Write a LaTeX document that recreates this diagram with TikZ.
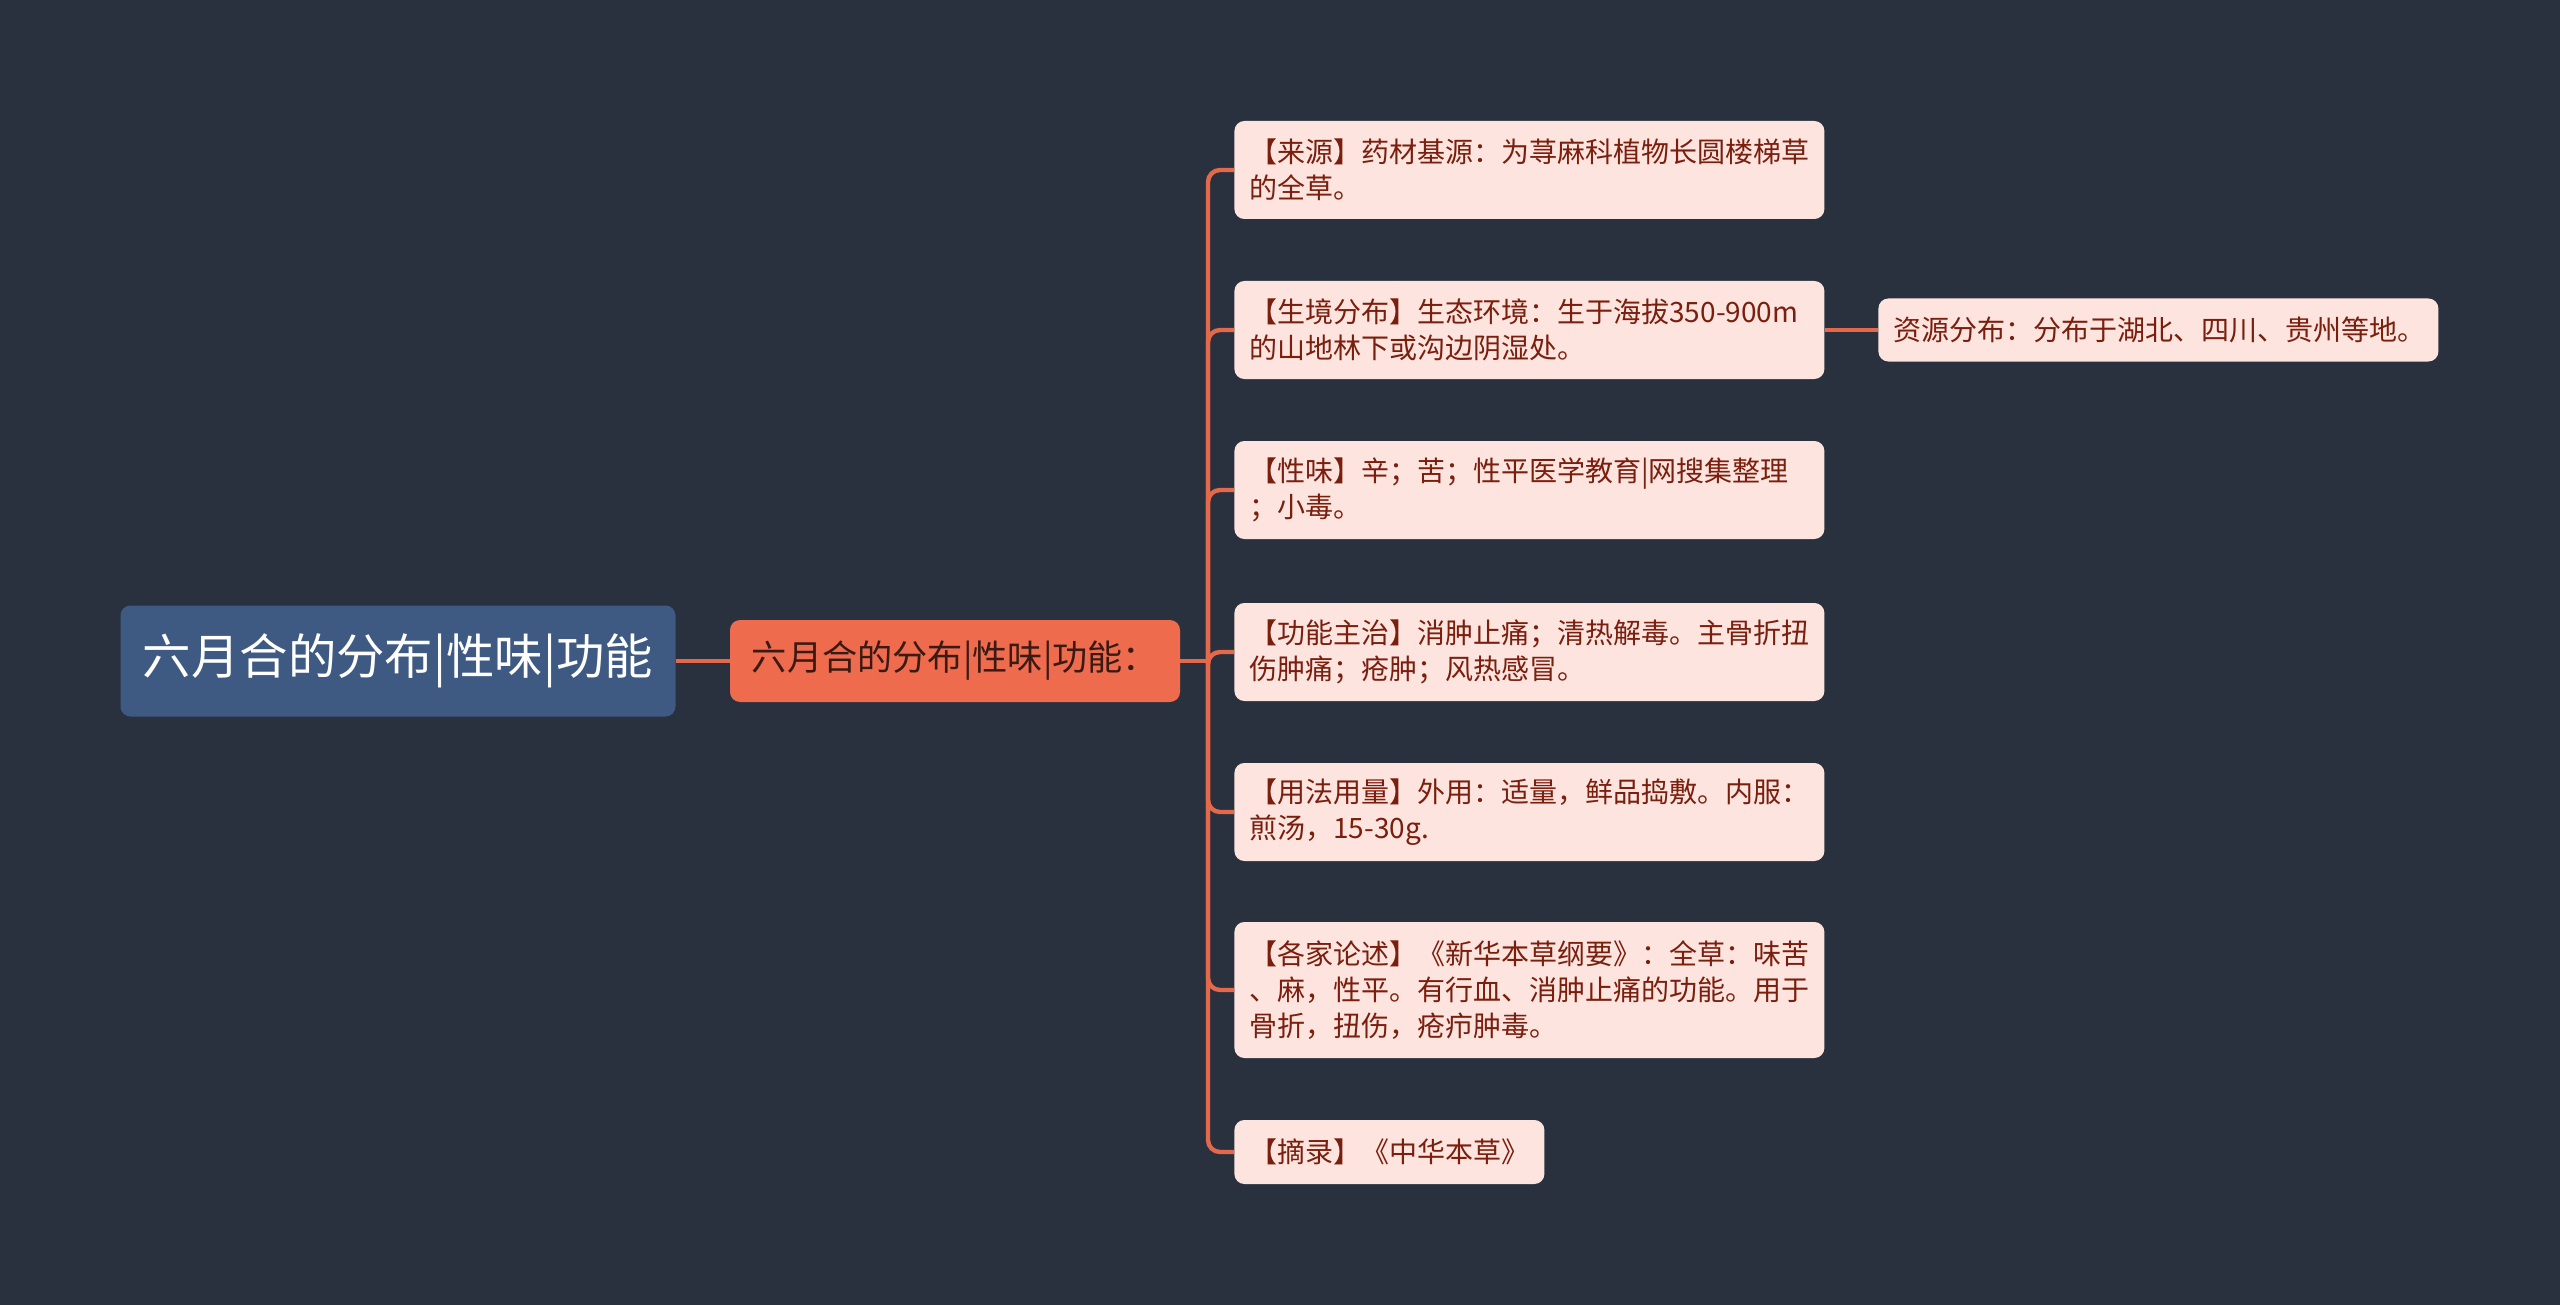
\documentclass[tikz,border=0pt]{standalone}
\usepackage{fontspec}
\newfontfamily\cjk{Noto Sans CJK SC}
\definecolor{bgc}{HTML}{29313F}
\definecolor{rootc}{HTML}{3E5A82}
\definecolor{mainc}{HTML}{EE6B4D}
\definecolor{leafc}{HTML}{FDE4DE}
\definecolor{leaftext}{HTML}{7A1E0E}
\definecolor{linec}{HTML}{E4684A}
\definecolor{maintext}{HTML}{3B1A14}
\tikzset{
  rootbox/.style={fill=rootc, rounded corners=5pt, text=white, font=\cjk\fontsize{24.2pt}{28pt}\selectfont, minimum width=277.5pt, minimum height=55.5pt, inner sep=0pt},
  mainbox/.style={fill=mainc, rounded corners=5pt, text=maintext, font=\cjk\fontsize{17.6pt}{21pt}\selectfont, minimum width=225pt, minimum height=41pt, inner sep=0pt},
  leafbox/.style={fill=leafc, rounded corners=5pt, text=leaftext, font=\cjk\fontsize{14pt}{18pt}\selectfont, align=left, inner xsep=7.5pt, inner ysep=0pt, anchor=west},
  wideleaf/.style={leafbox, text width=280pt},
  conn/.style={draw=linec, line width=2.2pt, rounded corners=6pt},
}
\begin{document}
\begin{tikzpicture}[x=0.5pt,y=-0.5pt]
\useasboundingbox[fill=bgc] (0,0) rectangle (2560,1305);
\node[rootbox] (root) at (398,661) {六月合的分布|性味|功能};
\node[mainbox] (main) at (955,661) {六月合的分布|性味|功能：};
\coordinate (j) at (1208,661);
\node[wideleaf, minimum height=49pt] (c1) at (1234,170) {【来源】药材基源：为荨麻科植物长圆楼梯草\\的全草。};
\node[wideleaf, minimum height=49pt] (c2) at (1234,330) {【生境分布】生态环境：生于海拔350-900m\\的山地林下或沟边阴湿处。};
\node[wideleaf, minimum height=49pt] (c3) at (1234,490) {【性味】辛；苦；性平医学教育|网搜集整理\\；小毒。};
\node[wideleaf, minimum height=49pt] (c4) at (1234,652) {【功能主治】消肿止痛；清热解毒。主骨折扭\\伤肿痛；疮肿；风热感冒。};
\node[wideleaf, minimum height=49pt] (c5) at (1234,812) {【用法用量】外用：适量，鲜品捣敷。内服：\\煎汤，15-30g.};
\node[wideleaf, minimum height=68pt] (c6) at (1234,990) {【各家论述】《新华本草纲要》：全草：味苦\\、麻，性平。有行血、消肿止痛的功能。用于\\骨折，扭伤，疮疖肿毒。};
\node[leafbox, minimum height=32pt] (c7) at (1234,1152) {【摘录】《中华本草》};
\node[leafbox, minimum height=31.5pt, text width=265pt] (s1) at (1878,330) {资源分布：分布于湖北、四川、贵州等地。};
\draw[conn] (root.east) -- (main.west);
\draw[conn] (main.east) -- (j);
\foreach \c in {c1,c2,c3,c4,c5,c6,c7} {
  \draw[conn] (j) |- (\c.west);
}
\draw[conn] (c2.east) -- (s1.west);
\end{tikzpicture}
\end{document}
